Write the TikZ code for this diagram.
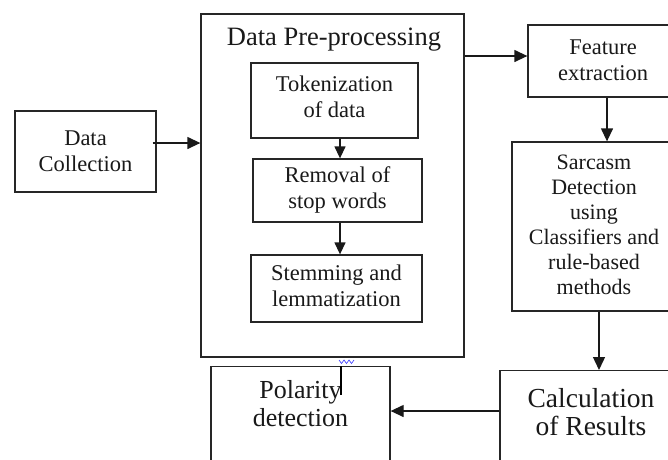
\documentclass[tikz,border=0pt]{standalone}
\usepackage{fontspec}
\setmainfont{Liberation Serif}
\usetikzlibrary{arrows.meta}
\tikzset{
  box/.style={draw=black!85, line width=1.3pt, fill=white, inner sep=0pt},
  txt/.style={align=center, font=\fontsize{22.5}{25.5}\selectfont, text=black!90},
  bigtxt/.style={align=center, font=\fontsize{27.5}{28.5}\selectfont, text=black!90},
  arr/.style={draw=black!90, line width=1.3pt, -{Triangle[length=13pt,width=12pt]}},
  sarr/.style={draw=black!90, line width=1.3pt, -{Triangle[length=12pt,width=11pt]}},
}
\begin{document}
\begin{tikzpicture}[x=1pt,y=-1pt]
\useasboundingbox (0,0) rectangle (668,459);
\clip (0,0) rectangle (668,459);
% boxes
\node[box, minimum width=141pt, minimum height=81pt] (dc) at (85.5,151.5) {};
\node[txt] (dct) at (85.5,151) {Data\\Collection};
\node[box, minimum width=263pt, minimum height=343pt] (big) at (332.5,185.5) {};
\node[bigtxt, font=\fontsize{26.5}{28}\selectfont] (title) at (334,40) {Data Pre-processing};
\node[box, minimum width=167pt, minimum height=75pt] (tok) at (334.5,100.5) {};
\node[txt] (tokt) at (334.5,97) {Tokenization\\of data};
\node[box, minimum width=169pt, minimum height=63pt] (rem) at (337.5,190.5) {};
\node[txt] (remt) at (337.5,190) {Removal of\\stop words};
\node[box, minimum width=171pt, minimum height=67pt] (stem) at (336.5,288.5) {};
\node[txt] (stemt) at (336.5,286) {Stemming and\\lemmatization};
\node[box, minimum width=150pt, minimum height=72pt] (feat) at (603,61) {};
\node[txt] (featt) at (603,60) {Feature\\extraction};
\node[box, minimum width=164pt, minimum height=169pt] (sarc) at (594,226.5) {};
\node[txt, font=\fontsize{22}{25}\selectfont] (sarct) at (594,225) {Sarcasm\\Detection\\using\\Classifiers and\\rule-based\\methods};
\node[box, anchor=north, minimum width=182pt, minimum height=100pt] (calc) at (591,370) {};
\node[bigtxt] (calct) at (591,412) {Calculation\\of Results};
\node[box, anchor=north, minimum width=179pt, minimum height=100pt] (pol) at (300.5,366) {};
\node[bigtxt, font=\fontsize{26}{28}\selectfont] (polt) at (300.5,404) {Polarity\\detection};
% connectors
\coordinate (a0) at ([yshift=8.5pt]dc.east);
\draw[arr] ([xshift=-4pt]a0) -- (a0 -| big.west);
\coordinate (a1) at ([yshift=129.5pt]big.east);
\draw[arr] (a1) -- (a1 -| feat.west);
\coordinate (a2) at ([xshift=5.5pt]tok.south);
\draw[sarr] (a2) -- (a2 |- rem.north);
\coordinate (a3) at ([xshift=2.5pt]rem.south);
\draw[sarr] (a3) -- (a3 |- stem.north);
\coordinate (a4) at ([xshift=4pt]feat.south);
\draw[arr] (a4) -- (a4 |- sarc.north);
\coordinate (a5) at ([xshift=5pt]sarc.south);
\draw[arr] (a5) -- (a5 |- calc.north);
\coordinate (a6) at (calc.west |- 0,411);
\draw[arr] (a6) -- (a6 -| pol.east);
\coordinate (a7) at ([xshift=40.5pt]pol.north);
\draw[line width=2.4pt, black] (a7) -- ++(0,29);
\draw[blue!80, line width=0.6pt] (339,360) -- (341.5,363.5) -- (344,360) -- (346.5,363.5) -- (349,360) -- (351.5,363.5) -- (354,360);
\end{tikzpicture}
\end{document}
